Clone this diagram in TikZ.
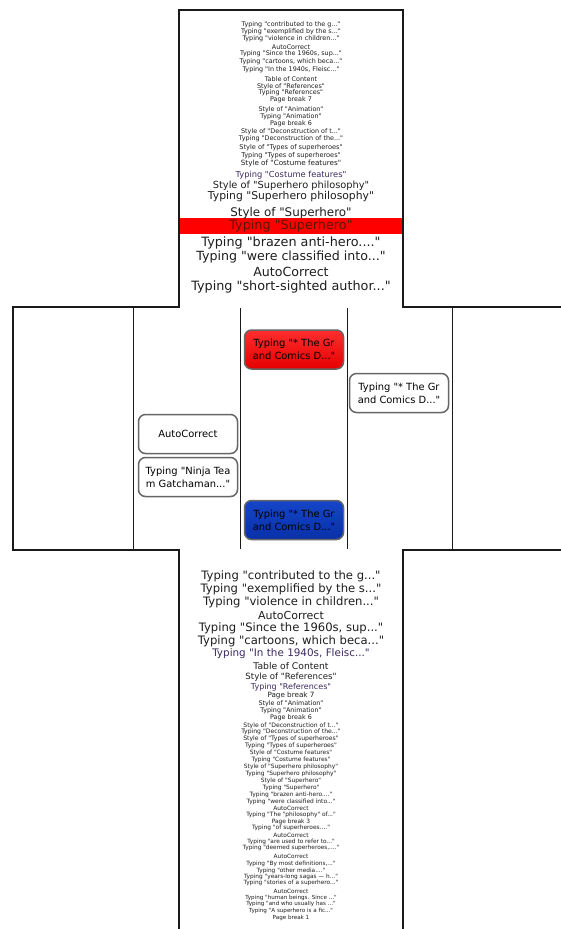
\documentclass[tikz,border=0pt]{standalone}
\usepackage{fontspec}
\setmainfont{DejaVu Sans}[Ligatures=TeXOff]
\definecolor{linec}{HTML}{1A1A1A}
\definecolor{txt}{HTML}{1E1E1E}
\definecolor{purp}{HTML}{3D2A5E}
\definecolor{redtop}{HTML}{FF2E2E}
\definecolor{redbot}{HTML}{E60000}
\definecolor{bluetop}{HTML}{1546C8}
\definecolor{bluebot}{HTML}{0830A8}
\definecolor{nodeb}{HTML}{666666}
\definecolor{hlred}{HTML}{FF0000}
\definecolor{hltxt}{HTML}{5A1400}
\tikzset{
  outl/.style={draw=linec, line width=2pt},
  lane/.style={draw=linec, line width=0.9pt},
  item/.style={inner sep=0pt, text=txt, anchor=center},
  box/.style={draw=nodeb, line width=1.5pt, rounded corners=7pt,
    minimum width=99pt, minimum height=39pt, align=center, inner sep=1pt,
    font=\fontsize{9.9}{12.8}\selectfont, text=black},
}
\begin{document}
\begin{tikzpicture}[x=1pt,y=-1pt]
\useasboundingbox[fill=white] (0,0) rectangle (560,929);
% highlight bar
\fill[hlred] (180,218) rectangle (403,234);
% outline
\draw[outl] (179,940) -- (179,550) -- (13,550) -- (13,307) -- (179,307)
  -- (179,9.5) -- (403,9.5) -- (403,307) -- (570,307);
\draw[outl] (570,550) -- (403,550) -- (403,940);
% lanes
\foreach \x in {133,240,347,452}
  \draw[lane] (\x,308) -- (\x,549);
% top list
\foreach \y/\s/\c/\t [count=\i] in {
 25/6.4/txt/{Typing "contributed to the g..."},
 32/6.4/txt/{Typing "exemplified by the s..."},
 39/6.4/txt/{Typing "violence in children..."},
 47/6.4/txt/{AutoCorrect},
 54/6.4/txt/{Typing "Since the 1960s, sup..."},
 62/6.4/txt/{Typing "cartoons, which beca..."},
 70/6.4/txt/{Typing "In the 1940s, Fleisc..."},
 79/6.4/txt/{Table of Content},
 87/6.4/txt/{Style of "References"},
 93/6.4/txt/{Typing "References"},
 100/6.4/txt/{Page break 7},
 110/6.4/txt/{Style of "Animation"},
 117/6.4/txt/{Typing "Animation"},
 124/6.4/txt/{Page break 6},
 132/6.4/txt/{Style of "Deconstruction of t..."},
 139/6.4/txt/{Typing "Deconstruction of the..."},
 148/6.6/txt/{Style of "Types of superheroes"},
 156/6.6/txt/{Typing "Types of superheroes"},
 164/7.2/txt/{Style of "Costume features"},
 175/8.3/purp/{Typing "Costume features"},
 186/9.8/txt/{Style of "Superhero philosophy"},
 197/10.8/txt/{Typing "Superhero philosophy"},
 213/11.9/txt/{Style of "Superhero"},
 226/12.8/hltxt/{Typing "Superhero"},
 243/12.8/txt/{Typing "brazen anti-hero...."},
 257/12.6/txt/{Typing "were classified into..."},
 272/12.6/txt/{AutoCorrect},
 287/12.8/txt/{Typing "short-sighted author..."}}
  \node[item, text=\c, font=\fontsize{\s}{\s}\selectfont] (top\i) at (291,\y) {\t};
% bottom list
\foreach \y/\s/\c/\t [count=\i] in {
 576/11.6/txt/{Typing "contributed to the g..."},
 589/11.6/txt/{Typing "exemplified by the s..."},
 602/11.6/txt/{Typing "violence in children..."},
 615/11.0/txt/{AutoCorrect},
 628/11.6/txt/{Typing "Since the 1960s, sup..."},
 641/11.6/txt/{Typing "cartoons, which beca..."},
 654/10.4/purp/{Typing "In the 1940s, Fleisc..."},
 666/9.2/txt/{Table of Content},
 677/8.6/txt/{Style of "References"},
 687/8.0/purp/{Typing "References"},
 696/7.2/txt/{Page break 7},
 704/6.4/txt/{Style of "Animation"},
 711/6.4/txt/{Typing "Animation"},
 718/6.4/txt/{Page break 6},
 726/6.1/txt/{Style of "Deconstruction of t..."},
 732/6.1/txt/{Typing "Deconstruction of the..."},
 739/6.1/txt/{Style of "Types of superheroes"},
 746/6.1/txt/{Typing "Types of superheroes"},
 753/5.9/txt/{Style of "Costume features"},
 760/5.9/txt/{Typing "Costume features"},
 767/5.9/txt/{Style of "Superhero philosophy"},
 774/5.9/txt/{Typing "Superhero philosophy"},
 781/5.9/txt/{Style of "Superhero"},
 788/5.9/txt/{Typing "Superhero"},
 795/5.9/txt/{Typing "brazen anti-hero...."},
 802/5.9/txt/{Typing "were classified into..."},
 808/5.9/txt/{AutoCorrect},
 815/5.9/txt/{Typing "The "philosophy" of..."},
 822/5.9/txt/{Page break 3},
 828/5.9/txt/{Typing "of superheroes...."},
 835/5.9/txt/{AutoCorrect},
 842/5.8/txt/{Typing "are used to refer to..."},
 848/5.8/txt/{Typing "deemed superheroes,...."},
 856/5.8/txt/{AutoCorrect},
 864/5.8/txt/{Typing "By most definitions,..."},
 871/5.8/txt/{Typing "other media...."},
 877/5.8/txt/{Typing "years-long sagas — h..."},
 883/5.8/txt/{Typing "stories of a superhero..."},
 891/5.8/txt/{AutoCorrect},
 898/5.6/txt/{Typing "human beings. Since ..."},
 904/5.6/txt/{Typing "and who usually has ..."},
 911/5.6/txt/{Typing "A superhero is a fic..."},
 918/5.6/txt/{Page break 1}}
  \node[item, text=\c, font=\fontsize{\s}{\s}\selectfont] (bot\i) at (291,\y) {\t};
% boxes
\node[box, top color=redtop, bottom color=redbot] (red) at (294,349.5) {Typing "* The Gr\\and Comics D..."};
\node[box, fill=white] (right) at (399,393) {Typing "* The Gr\\and Comics D..."};
\node[box, fill=white] (auto) at (188,434) {AutoCorrect};
\node[box, fill=white] (ninja) at (188,477) {Typing "Ninja Tea\\m Gatchaman..."};
\node[box, top color=bluetop, bottom color=bluebot] (blue) at (294,520) {Typing "* The Gr\\and Comics D..."};
\end{tikzpicture}
\end{document}
